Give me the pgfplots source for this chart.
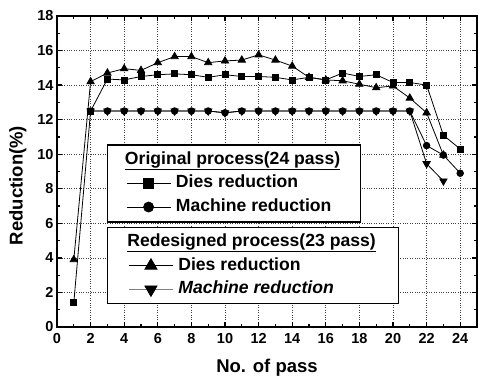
\documentclass[border=0pt]{standalone}
\usepackage{fontspec}
\setmainfont{Liberation Sans}
\usepackage{pgfplots}
\pgfplotsset{compat=1.18}
\pgfplotstableread{
x y
1 1.4
2 12.5
3 14.35
4 14.3
5 14.5
6 14.6
7 14.65
8 14.6
9 14.45
10 14.6
11 14.5
12 14.5
13 14.45
14 14.3
15 14.45
16 14.3
17 14.7
18 14.5
19 14.6
20 14.15
21 14.15
22 14.0
23 11.1
24 10.3
}\origdies
\pgfplotstableread{
x y
2 12.5
3 12.5
4 12.5
5 12.5
6 12.5
7 12.5
8 12.5
9 12.5
10 12.4
11 12.5
12 12.5
13 12.5
14 12.5
15 12.5
16 12.5
17 12.5
18 12.5
19 12.5
20 12.5
21 12.5
22 10.5
23 9.95
24 8.9
}\origmach
\pgfplotstableread{
x y
1 3.9
2 14.2
3 14.7
4 14.95
5 14.85
6 15.3
7 15.65
8 15.65
9 15.3
10 15.4
11 15.45
12 15.75
13 15.45
14 15.1
15 14.45
16 14.3
17 14.25
18 14.05
19 13.85
20 13.95
21 13.25
22 12.4
23 9.95
}\redies
\pgfplotstableread{
x y
2 12.5
3 12.5
4 12.5
5 12.5
6 12.5
7 12.5
8 12.5
9 12.5
10 12.4
11 12.5
12 12.5
13 12.5
14 12.5
15 12.5
16 12.5
17 12.5
18 12.5
19 12.5
20 12.5
21 12.5
22 9.45
23 8.45
}\remach
\pgfplotsset{
  common/.style={
    scale only axis, width=420pt, height=311pt,
    xmin=0, xmax=25, ymin=0, ymax=18,
    at={(0,0)}, anchor=south west,
  },
  mylegend/.style={
    legend cell align=left,
    legend image code/.code={\draw[mark repeat=2,mark phase=2,##1] plot coordinates {(0pt,0pt) (22pt,0pt) (44pt,0pt)};},
    legend style={draw=black, line width=1.4pt, fill=white,
      font=\bfseries\fontsize{17.6}{17.6}\selectfont,
      inner xsep=2pt, inner ysep=2pt, row sep=4.7pt, column sep=3pt,
      nodes={inner xsep=2pt, inner ysep=1pt, text height=13pt, text depth=4pt,
        minimum width=0pt, minimum height=0pt}},
  },
}
\begin{document}
\begin{tikzpicture}[font=\bfseries]
\useasboundingbox (-57pt,-50pt) rectangle (421pt,327pt);
\begin{axis}[common, mylegend,
  xtick={0,2,...,24}, ytick={0,2,...,18},
  minor x tick num=1, minor y tick num=1,
  tick align=inside,
  major tick length=5pt, minor tick length=3pt,
  every tick/.style={black, line width=1.3pt},
  axis line style={line width=1.8pt},
  grid=major, major grid style={dotted, black!75, line width=0.7pt},
  ticklabel style={font=\bfseries\fontsize{14.5}{14.5}\selectfont},
  xticklabel style={yshift=-3pt},
  /pgf/number format/assume math mode=true,
  xlabel={No. of pass}, ylabel={Reduction(\%)},
  label style={font=\bfseries\fontsize{18.5}{18.5}\selectfont},
  xlabel style={yshift=-8pt},
  ylabel style={at={(ticklabel cs:0.455)}, yshift=4pt},
  legend style={at={(0.119,0.588)}, anchor=north west, minimum width=253pt, minimum height=77pt},
]
\addplot[black, line width=0.8pt, mark=square*, mark size=3pt, forget plot] table {\origdies};
\addplot[black, line width=0.8pt, mark=*, mark size=3.3pt, forget plot] table {\origmach};
\addlegendimage{empty legend}
\addlegendentry{\hspace*{-51pt}\underline{Original process(24 pass)}}
\addlegendimage{black, line width=0.8pt, mark=square*, mark size=5pt}
\addlegendentry{Dies reduction}
\addlegendimage{black, line width=0.8pt, mark=*, mark size=5pt}
\addlegendentry{Machine reduction}
\end{axis}
\begin{axis}[common, mylegend, hide axis,
  legend style={at={(0.119,0.3215)}, anchor=north west, minimum width=291pt, minimum height=76pt},
]
\addplot[black, line width=0.8pt, mark=triangle*, mark size=4.2pt, forget plot] table {\redies};
\addplot[black, line width=0.8pt, mark=triangle*, mark options={rotate=180}, mark size=4.2pt, forget plot] table {\remach};
\addlegendimage{empty legend}
\addlegendentry{\hspace*{-51pt}\underline{Redesigned process(23 pass)}}
\addlegendimage{black, line width=0.8pt, mark=triangle*, mark size=7pt}
\addlegendentry{Dies reduction}
\addlegendimage{gray, line width=0.8pt, mark=triangle*, mark options={rotate=180, black, fill=black}, mark size=7pt}
\addlegendentry{\textit{Machine reduction}}
\end{axis}
\end{tikzpicture}
\end{document}
